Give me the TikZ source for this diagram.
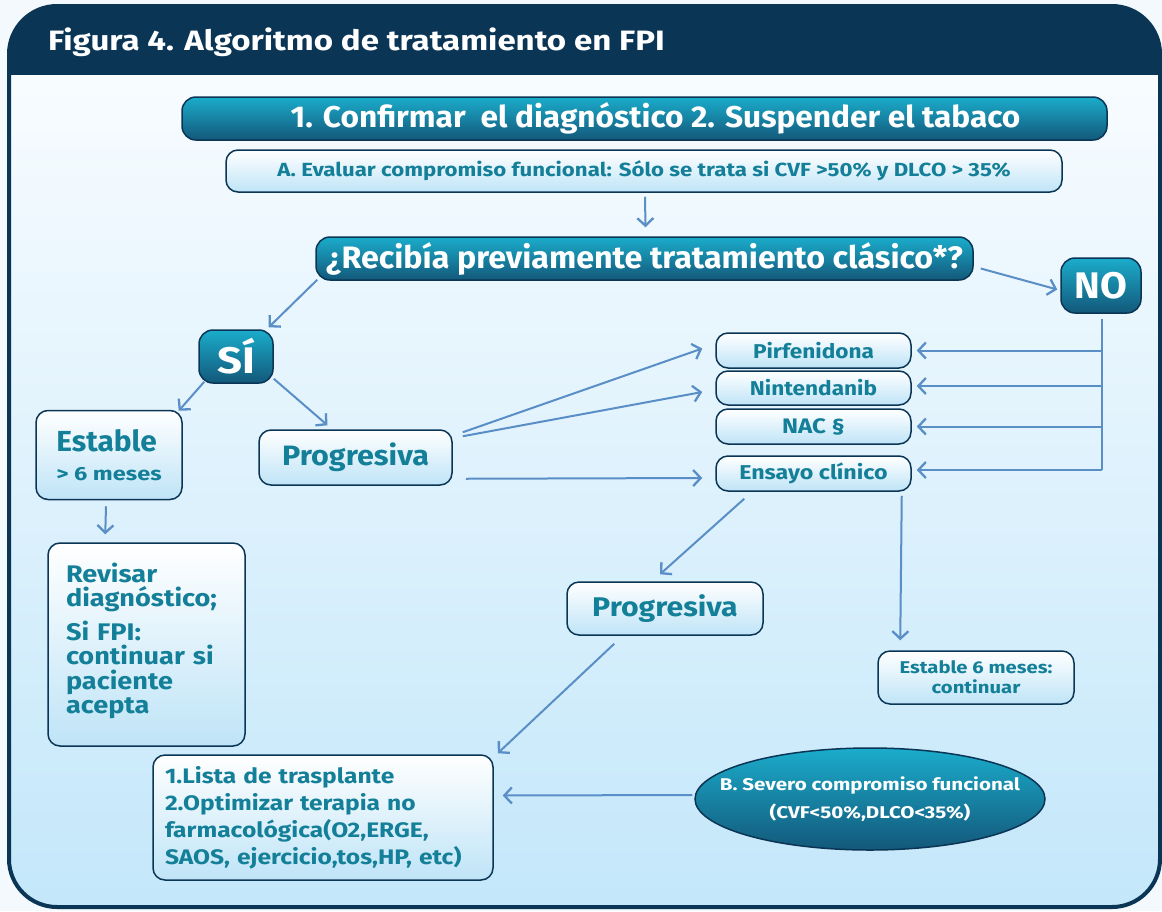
\documentclass[tikz,border=0pt]{standalone}
\usepackage{fontspec}
\setmainfont{Fira Sans}
\usetikzlibrary{arrows.meta,shapes.geometric,calc}
\definecolor{navy}{HTML}{0B3555}
\definecolor{tealtop}{HTML}{1BACCB}
\definecolor{tealbot}{HTML}{13587A}
\definecolor{lightbot}{HTML}{BFE4F7}
\definecolor{tealtext}{HTML}{137F98}
\definecolor{arrowblue}{HTML}{5A8EC6}
\definecolor{bgout}{HTML}{F3F9FD}
\definecolor{bgtop}{HTML}{F8FCFF}
\definecolor{bgbot}{HTML}{C3E7FA}
\newcommand\fz[3]{\bfseries\fontsize{#1}{#2}\selectfont\addfontfeature{FakeStretch=#3}}
\begin{document}
\begin{tikzpicture}[x=1pt,y=-1pt,
  darkbox/.style={draw=navy,line width=1.5pt,rounded corners=14pt,top color=tealtop,bottom color=tealbot,text=white,inner sep=0pt,font=\bfseries},
  lightbox/.style={draw=navy,line width=1.5pt,rounded corners=12pt,top color=white,bottom color=lightbot,text=tealtext,inner sep=0pt,font=\bfseries},
  arr/.style={draw=arrowblue,line width=2pt,-{Straight Barb[length=7.5pt,width=16pt,line width=2.3pt]}},
  ln/.style={draw=arrowblue,line width=2pt}]
\useasboundingbox (0,0) rectangle (1162,911);
\fill[bgout] (0,0) rectangle (1162,911);
\begin{scope}
  \clip[rounded corners=48pt] (9,6) rectangle (1160,907);
  \shade[top color=bgtop,bottom color=bgbot] (0,75) rectangle (1162,911);
  \fill[navy] (0,0) rectangle (1162,75);
\end{scope}
\draw[navy,line width=4pt,rounded corners=48pt] (9,6) rectangle (1160,907);
\node[anchor=west,text=white,font=\fz{28}{30}{1.18},inner sep=0pt] (title) at (48,42) {Figura 4. Algoritmo de tratamiento en FPI};

\node[darkbox,minimum width=925pt,minimum height=43pt,font=\fz{30}{32}{1.055}] (top) at (644.5,118.5) {\hspace*{22pt}1. Confirmar\ \ el diagnóstico 2. Suspender el tabaco};
\node[lightbox,minimum width=836pt,minimum height=42pt,font=\fz{19}{20}{1.17}] (evalA) at (644,171) {A. Evaluar compromiso funcional: Sólo se trata si CVF >50\% y DLCO > 35\%};
\node[darkbox,minimum width=657pt,minimum height=43pt,font=\fz{31}{32}{1.04}] (q) at (644.5,258.5) {¿Recibía previamente tratamiento clásico*?};
\node[darkbox,minimum width=80pt,minimum height=55pt,font=\fz{37}{38}{1.05}] (no) at (1101,285.5) {NO};
\node[darkbox,minimum width=74pt,minimum height=53pt,font=\fz{37}{36}{1.18}] (si) at (236,356.5) {SÍ};
\node[lightbox,minimum width=146pt,minimum height=89pt,align=left,font=\fz{29}{24}{1.03}] (est) at (109,455) {Estable\\[5pt]{\fz{19}{22}{1.24}> 6 meses}};
\node[lightbox,minimum width=197pt,minimum height=203pt,text width=161pt,align=left,font=\fz{24}{24.5}{1.13}] (rev) at (146.5,644.5) {Revisar\\diagnóstico;\\[8pt]Si FPI:\\continuar si\\paciente\\acepta\\[-12pt]\mbox{}};
\node[lightbox,minimum width=193pt,minimum height=55pt,font=\fz{28}{30}{1.09}] (prog1) at (355.5,457.5) {Progresiva};
\node[lightbox,minimum width=195pt,minimum height=35pt,font=\fz{20}{22}{1.13}] (pirf) at (813.5,350.5) {Pirfenidona};
\node[lightbox,minimum width=195pt,minimum height=34pt,font=\fz{20}{22}{1.13}] (nint) at (813.5,388) {Nintendanib};
\node[lightbox,minimum width=195pt,minimum height=35pt,font=\fz{21}{22}{1.15}] (nac) at (813.5,426.5) {NAC §};
\node[lightbox,minimum width=195pt,minimum height=35pt,font=\fz{20}{22}{1.16}] (ens) at (813.5,473.5) {Ensayo clínico};
\node[lightbox,minimum width=196pt,minimum height=53pt,font=\fz{27}{30}{1.12}] (prog2) at (665,608.5) {Progresiva};
\node[lightbox,minimum width=196pt,minimum height=53pt,align=center,font=\fz{17}{20}{1.19}] (est6) at (976,677.5) {Estable 6 meses:\\continuar};
\node[lightbox,minimum width=340pt,minimum height=125pt,text width=316pt,align=left,font=\fz{21}{27}{1.17}] (lista) at (323,817.5) {1.Lista de trasplante\\2.Optimizar terapia no\\farmacológica(O2,ERGE,\\SAOS, ejercicio,tos,HP, etc)};
\node[ellipse,draw=navy,line width=1.5pt,top color=tealtop,bottom color=tealbot,minimum width=350pt,minimum height=102pt,inner sep=0pt] (sev) at (870,799) {};
\node[text=white,align=center,inner sep=0pt,font=\fz{17}{28}{1.21}] (sevtext) at (sev.center) {B. Severo compromiso funcional\\(CVF<50\%,DLCO<35\%)};

\draw[arr] ($(evalA.south)+(1,4)$) -- ($(q.north)+(1,-9)$);
\draw[arr] ($(q.east)+(7,10)$) -- ($(no.west)+(-3,4)$);
\draw[arr] ($(q.south west)+(2,-1)$) -- ($(si.north east)+(-5,-2)$);
\draw[arr] ($(si.south west)+(6,-2)$) -- ($(est.north east)+(-4,1)$);
\draw[arr] ($(si.south east)+(0,-5)$) -- ($(prog1.north)+(-28,-4)$);
\draw[arr] ($(est.south)+(-3,6)$) -- ($(rev.north west)+(58,-8)$);
\draw[arr] ($(prog1.north east)+(10,3)$) -- ($(pirf.west)+(-13,-2)$);
\draw[arr] ($(prog1.north east)+(10,7)$) -- ($(nint.west)+(-13,4)$);
\draw[arr] ($(prog1.south east)+(13,-7)$) -- ($(ens.west)+(-13,4.5)$);
\coordinate (trunk) at ($(no.south)+(1,5)$);
\draw[ln] (trunk) -- ($(trunk |- ens.east)+(0,-3.5)$);
\draw[arr] (trunk |- pirf.east) -- ($(pirf.east)+(5,0)$);
\draw[arr] ($(trunk |- nint.east)+(0,-2)$) -- ($(nint.east)+(5,-2)$);
\draw[arr] (trunk |- nac.east) -- ($(nac.east)+(5,0)$);
\draw[arr] ($(trunk |- ens.east)+(0,-3.5)$) -- ($(ens.east)+(5,-3.5)$);
\draw[arr] ($(ens.south west)+(29,7)$) -- ($(prog2.north)+(-5,-7)$);
\draw[arr] ($(ens.south east)+(-10,4)$) -- ($(est6.north west)+(23,-10)$);
\draw[arr] ($(prog2.south west)+(48,8)$) -- ($(lista.north east)+(4,-1)$);
\draw[arr] ($(sev.west)+(-2,-4)$) -- ($(lista.east)+(9,-22)$);
\end{tikzpicture}
\end{document}
